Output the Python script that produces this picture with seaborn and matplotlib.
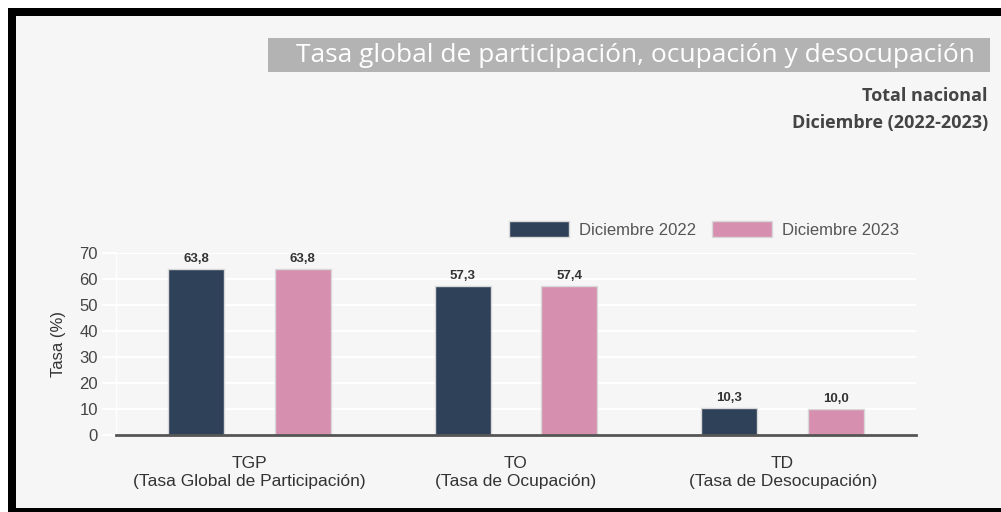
import pandas as pd
import numpy as np
import matplotlib.pyplot as plt
import seaborn as sns
from matplotlib.patches import Rectangle

# Data
categorias = ['TGP\n(Tasa Global de Participación)',
              'TO\n(Tasa de Ocupación)',
              'TD\n(Tasa de Desocupación)']
dic_2022 = [63.8, 57.3, 10.3]
dic_2023 = [63.8, 57.4, 10.0]
periodos = ['Diciembre 2022', 'Diciembre 2023']
colores = ['#2e4159', '#d78fb0']
y_ticks = [0, 10, 20, 30, 40, 50, 60, 70]

df = pd.DataFrame({
    'categoria': categorias * 2,
    'periodo': [periodos[0]] * 3 + [periodos[1]] * 3,
    'tasa': dic_2022 + dic_2023,
})

sns.set_theme(style='white')
plt.rcParams['font.family'] = ['Liberation Sans', 'DejaVu Sans']

W, H = 1001, 512
fig = plt.figure(figsize=(W / 100, H / 100), dpi=100, facecolor='white')


def px_rect(x0, y0, x1, y1, color, z=0):
    # rectangle in pixel coords (origin top-left)
    fig.add_artist(Rectangle((x0 / W, 1 - y1 / H), (x1 - x0) / W, (y1 - y0) / H,
                             transform=fig.transFigure, facecolor=color,
                             edgecolor='none', zorder=z))


# background panel and black frame
px_rect(16, 16, W, 508, '#f6f6f6', z=-10)
px_rect(8, 8, W, 16, 'black', z=-9)
px_rect(8, 8, 16, H, 'black', z=-9)
px_rect(8, 508, W, H, 'black', z=-9)

# title box
px_rect(268, 38, 990, 72, '#b3b3b3', z=-5)
fig.text(975 / W, 1 - 56 / H, 'Tasa global de participación, ocupación y desocupación',
         ha='right', va='center', color='white', fontsize=19, family='Open Sans')
fig.text(988 / W, 1 - 96 / H, 'Total nacional', ha='right', va='center',
         color='#444444', fontsize=13, fontweight='bold', family='Open Sans')
fig.text(988 / W, 1 - 123 / H, 'Diciembre (2022-2023)', ha='right', va='center',
         color='#444444', fontsize=13, fontweight='bold', family='Open Sans')

# axes
ax = fig.add_axes([116 / W, 1 - 435 / H, 800 / W, 182 / H])
ax.set_facecolor('#f6f6f6')

sns.barplot(data=df, x='categoria', y='tasa', hue='periodo', palette=colores,
            width=0.8, gap=0.475, edgecolor='#d8d8d8', linewidth=1,
            saturation=1, ax=ax, zorder=3)

for cont in ax.containers:
    ax.bar_label(cont, fmt=lambda v: f'{v:.1f}'.replace('.', ','), padding=3,
                 fontsize=9.5, fontweight='bold', color='#333333')

ax.set_xlim(-0.5, 2.5)
ax.set_ylim(0, 70)
ax.set_yticks(y_ticks)
ax.yaxis.grid(True, color='white', linewidth=1.5, zorder=0)
ax.set_axisbelow(True)

for s in ['top', 'right']:
    ax.spines[s].set_visible(False)
ax.spines['left'].set_color('white')
ax.spines['left'].set_linewidth(1)
ax.spines['bottom'].set_color('#555555')
ax.spines['bottom'].set_linewidth(2)
ax.spines['bottom'].set_zorder(4)

ax.tick_params(axis='y', length=10, width=1.5, color='white', pad=3,
               labelsize=12, labelcolor='#444444', left=True)
ax.yaxis.get_major_ticks()[0].tick1line.set_color('#555555')
ax.tick_params(axis='x', length=0, pad=15, labelsize=12.5, labelcolor='#333333')
for lbl in ax.get_xticklabels():
    lbl.set_linespacing(1.25)

ax.set_xlabel('')
ax.set_ylabel('Tasa (%)', fontsize=12, color='#333333')
ax.yaxis.set_label_coords(-0.0625, 0.5)

ax.legend(loc='center', bbox_to_anchor=(704 / W, 1 - 229.5 / H),
          bbox_transform=fig.transFigure, ncol=2, frameon=False,
          fontsize=12, handlelength=3.6, handleheight=1.05,
          handletextpad=0.6, columnspacing=0.95, borderpad=0,
          labelcolor='#555555')

plt.savefig('out.png', dpi=100, facecolor=fig.get_facecolor())
